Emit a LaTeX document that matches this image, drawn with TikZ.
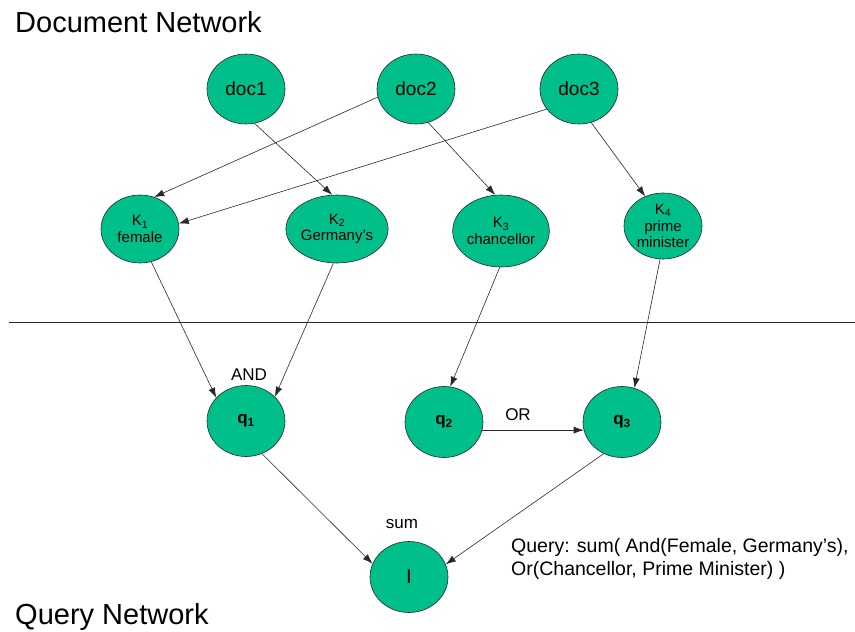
\documentclass[tikz,border=0pt]{standalone}
\usepackage{fontspec}
\setmainfont{Liberation Sans}
\usetikzlibrary{arrows.meta,shapes.geometric}
\definecolor{nodegreen}{RGB}{0,191,138}
\definecolor{edgegray}{RGB}{40,40,40}
\tikzset{
  netnode/.style={ellipse, draw=edgegray, line width=0.6pt, fill=nodegreen,
    minimum width=78pt, minimum height=70pt, inner sep=0pt, align=center,
    font=\fontsize{15}{16.5}\selectfont},
  docnode/.style={netnode, font=\fontsize{19}{22}\selectfont},
  qnode/.style={netnode, minimum height=71pt, font=\fontsize{17}{20}\selectfont\bfseries},
  link/.style={draw=edgegray, line width=0.6pt, -{Latex[length=10pt,width=7pt]}},
  title/.style={anchor=base west, inner sep=0pt, font=\fontsize{29}{32}\selectfont},
  oplabel/.style={anchor=base, inner sep=0pt, font=\fontsize{17}{20}\selectfont},
}
\begin{document}
\begin{tikzpicture}[x=1pt,y=-1pt]
\useasboundingbox (0,0) rectangle (855,632);

% titles
\node[title] (tdoc) at (15,32) {Document Network};
\node[title] (tquery) at (15,624) {Query Network};

% separator
\coordinate (sepL) at (9,322);
\coordinate (sepR) at (855,322);
\draw[draw=edgegray, line width=0.8pt] (sepL) -- (sepR);

% document nodes
\node[docnode] (doc1) at (246,89) {doc1};
\node[docnode] (doc2) at (416,89) {doc2};
\node[docnode] (doc3) at (579,89) {doc3};

% keyword nodes
\node[netnode, minimum height=68pt] (k1) at (140,229) {K\textsubscript{1}\\female};
\node[netnode, minimum height=68pt] (k2) at (337,229) {K\textsubscript{2}\\Germany's};
\node[netnode, minimum height=72pt] (k3) at (501,231) {K\textsubscript{3}\\chancellor};
\node[netnode, minimum height=66pt] (k4) at (663,226) {K\textsubscript{4}\\prime\\minister};

% query nodes
\node[qnode] (q1) at (246,421) {q\textsubscript{1}};
\node[qnode] (q2) at (444,422) {q\textsubscript{2}};
\node[qnode] (q3) at (622,422) {q\textsubscript{3}};
\node[netnode, minimum height=71pt, font=\fontsize{20}{22}\selectfont] (inode) at (409,577) {I};

% labels
\node[oplabel] (andlbl) at (249,380) {AND};
\node[oplabel] (orlbl) at (518,420) {OR};
\node[oplabel] (sumlbl) at (402,528) {sum};
\node[anchor=base west, inner sep=0pt, align=left,
      font=\fontsize{19.5}{22.5}\selectfont] (query) at (511,575)
  {Query: sum( And(Female, Germany’s),\\Or(Chancellor, Prime Minister) )};

% document -> keyword
\draw[link] (doc2.192) -- (k1.66);
\draw[link] (doc3.212) -- (k1.8);
\draw[link] (doc1.284) -- (k2.98);
\draw[link] (doc2.290) -- (k3.99);
\draw[link] (doc3.290) -- (k4.121);

% keyword -> query
\draw[link] (k1.289) -- (q1.142);
\draw[link] (k2.264) -- (q1.40);
\draw[link] (k3.268) -- (q2.80);
\draw[link] (k4.265) -- (q3.70);
\draw[link] (q2.348) -- (q3.192);

% query -> I
\draw[link] (q1.296) -- (inode.160);
\draw[link] (q3.240) -- (inode.19);
\end{tikzpicture}
\end{document}
